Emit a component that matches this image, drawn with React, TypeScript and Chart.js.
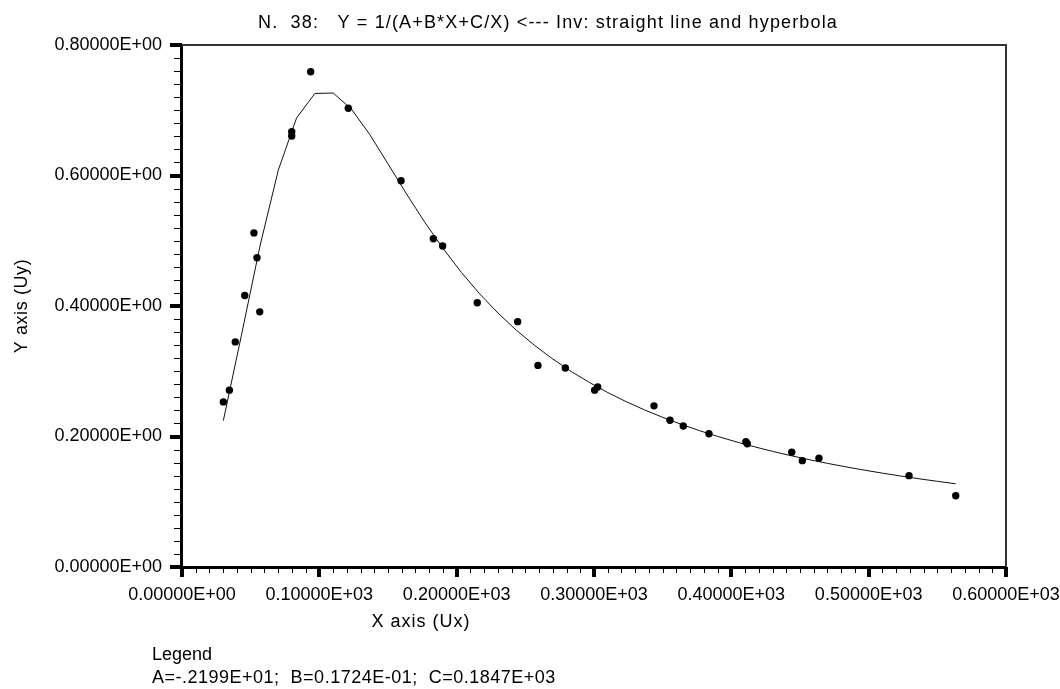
import React, { useEffect, useRef } from 'react';
import { Chart, registerables } from 'chart.js';

Chart.register(...registerables);

const chartTitle = 'N.  38:   Y = 1/(A+B*X+C/X) <--- Inv: straight line and hyperbola';
const xAxisTitle = 'X axis (Ux)';
const yAxisTitle = 'Y axis (Uy)';
const legendTitle = 'Legend';
const legendText = 'A=-.2199E+01;  B=0.1724E-01;  C=0.1847E+03';

const xTickLabels = ['0.00000E+00', '0.10000E+03', '0.20000E+03', '0.30000E+03', '0.40000E+03', '0.50000E+03', '0.60000E+03'];
const yTickLabels = ['0.00000E+00', '0.20000E+00', '0.40000E+00', '0.60000E+00', '0.80000E+00'];

const obsX = [30.1, 34.5, 38.8, 45.7, 52.4, 54.6, 56.6, 79.9, 79.9, 93.7, 121.1, 159.5, 183.0, 189.8, 215.0, 244.4, 259.2, 279.1, 300.5, 302.7, 343.7, 355.3, 365.0, 383.7, 410.6, 411.6, 444.0, 451.7, 463.8, 529.4, 563.4];
const obsY = [0.253, 0.271, 0.345, 0.416, 0.512, 0.474, 0.391, 0.667, 0.6605, 0.759, 0.703, 0.592, 0.503, 0.492, 0.405, 0.376, 0.309, 0.305, 0.271, 0.276, 0.247, 0.2248, 0.216, 0.2043, 0.192, 0.189, 0.1758, 0.163, 0.1666, 0.140, 0.1093];

const fitX = [30.1, 43.43, 56.77, 70.10, 83.43, 96.76, 110.10, 123.43, 136.76, 150.09, 163.43, 176.76, 190.09, 203.42, 216.76, 230.09, 243.42, 256.75, 270.09, 283.42, 296.75, 310.08, 323.42, 336.75, 350.08, 363.41, 376.75, 390.08, 403.41, 416.74, 430.08, 443.41, 456.74, 470.07, 483.41, 496.74, 510.07, 523.40, 536.74, 550.07, 563.40];
const fitY = [0.2244, 0.3568, 0.4918, 0.6081, 0.6882, 0.7257, 0.7264, 0.7016, 0.6626, 0.6176, 0.5719, 0.5284, 0.4882, 0.4515, 0.4186, 0.3892, 0.3630, 0.3396, 0.3186, 0.2997, 0.2827, 0.2673, 0.2534, 0.2408, 0.2293, 0.2187, 0.2090, 0.2001, 0.1919, 0.1843, 0.1772, 0.1706, 0.1645, 0.1588, 0.1535, 0.1485, 0.1438, 0.1394, 0.1352, 0.1313, 0.1275];

const FONT = '"Liberation Sans", Arial, sans-serif';
const FONT_SIZE = 18;

function textWithSpacing(ctx: CanvasRenderingContext2D, text: string, x: number, y: number, spacing: number) {
  const c = ctx as any;
  const prev = c.letterSpacing;
  c.letterSpacing = spacing + 'px';
  ctx.fillText(text, x, y);
  c.letterSpacing = prev || '0px';
}

const decorPlugin = {
  id: 'decor',
  afterDraw(chart: any) {
    const ctx = chart.ctx as CanvasRenderingContext2D;
    const area = chart.chartArea;
    const xs = chart.scales.x;
    const ys = chart.scales.y;
    const L = Math.round(area.left);
    const R = Math.round(area.right);
    const T = Math.round(area.top);
    const B = Math.round(area.bottom);
    ctx.save();
    // frame
    ctx.fillStyle = '#000';
    ctx.fillRect(L - 2, T, 3, B - T + 2);
    ctx.fillRect(L - 2, B - 1, R - L + 3, 3);
    ctx.fillStyle = '#333';
    ctx.fillRect(L, T - 1, R - L + 1, 2);
    ctx.fillRect(R - 1, T - 1, 2, B - T + 1);
    ctx.fillStyle = '#000';
    // x ticks
    xs.ticks.forEach((t: any, i: number) => {
      const px = Math.round(xs.getPixelForValue(t.value));
      if (i % 10 === 0) ctx.fillRect(px - 2, B, 4, 10);
      else ctx.fillRect(px, B, 1, 6);
    });
    // y ticks
    ys.ticks.forEach((t: any, i: number) => {
      const py = Math.round(ys.getPixelForValue(t.value));
      if (i % 10 === 0) ctx.fillRect(L - 12, py - 2, 12, 4);
      else ctx.fillRect(L - 8, py, 8, 1);
    });
    // texts
    ctx.font = `${FONT_SIZE}px ${FONT}`;
    ctx.fillStyle = '#000';
    ctx.textBaseline = 'middle';
    ctx.textAlign = 'center';
    textWithSpacing(ctx, chartTitle, 548, 23, 1.15);
    textWithSpacing(ctx, xAxisTitle, 421, 622, 1);
    ctx.textAlign = 'left';
    ctx.fillText(legendTitle, 152, 655);
    textWithSpacing(ctx, legendText, 152, 678, 0.5);
    ctx.save();
    ctx.translate(22, 306);
    ctx.rotate(-Math.PI / 2);
    ctx.textAlign = 'center';
    textWithSpacing(ctx, yAxisTitle, 0, 0, 0.6);
    ctx.restore();
    ctx.restore();
  },
};

export default function App() {
  const ref = useRef<HTMLCanvasElement | null>(null);
  useEffect(() => {
    if (!ref.current) return;
    const chart = new Chart(ref.current, {
      type: 'scatter',
      data: {
        datasets: [
          {
            label: 'Observed',
            data: obsX.map((x, i) => ({ x, y: obsY[i] })),
            backgroundColor: '#000',
            borderColor: '#000',
            pointRadius: 3.7,
            pointBorderWidth: 0,
            showLine: false,
          },
          {
            label: 'Fit',
            data: fitX.map((x, i) => ({ x, y: fitY[i] })),
            borderColor: '#111',
            borderWidth: 1,
            pointRadius: 0,
            showLine: true,
            tension: 0,
          } as any,
        ],
      },
      options: {
        animation: false,
        responsive: false,
        maintainAspectRatio: false,
        devicePixelRatio: 1,
        layout: { padding: { left: 0, top: 45, right: 54, bottom: 0 } },
        plugins: {
          legend: { display: false },
          title: { display: false },
          tooltip: { enabled: false },
        },
        scales: {
          x: {
            type: 'linear',
            position: 'bottom',
            min: 0,
            max: 600,
            grid: { display: false, drawTicks: true, tickLength: 10 },
            border: { display: false },
            ticks: {
              stepSize: 10,
              autoSkip: false,
              maxRotation: 0,
              minRotation: 0,
              padding: 7,
              color: '#000',
              font: { family: FONT, size: FONT_SIZE },
              callback: (_v: any, i: number) => (i % 10 === 0 ? xTickLabels[i / 10] : ''),
            },
            afterFit: (s: any) => {
              s.height = 689 - 567;
              s.paddingLeft = 0;
              s.paddingRight = 0;
            },
          },
          y: {
            type: 'linear',
            min: 0,
            max: 0.8,
            grid: { display: false, drawTicks: true, tickLength: 10 },
            border: { display: false },
            ticks: {
              stepSize: 0.02,
              autoSkip: false,
              padding: 10,
              color: '#000',
              font: { family: FONT, size: FONT_SIZE },
              callback: (_v: any, i: number) => (i % 10 === 0 ? yTickLabels[i / 10] : ''),
            },
            afterFit: (s: any) => {
              s.width = 182;
              s.paddingTop = 0;
              s.paddingBottom = 0;
            },
          },
        },
      },
      plugins: [decorPlugin],
    } as any);
    return () => chart.destroy();
  }, []);
  return (
    <div style={{ position: 'absolute', left: 0, top: 0, width: 1060, height: 689, background: '#fff' }}>
      <canvas ref={ref} width={1060} height={689} style={{ display: 'block', width: 1060, height: 689 }} />
    </div>
  );
}
